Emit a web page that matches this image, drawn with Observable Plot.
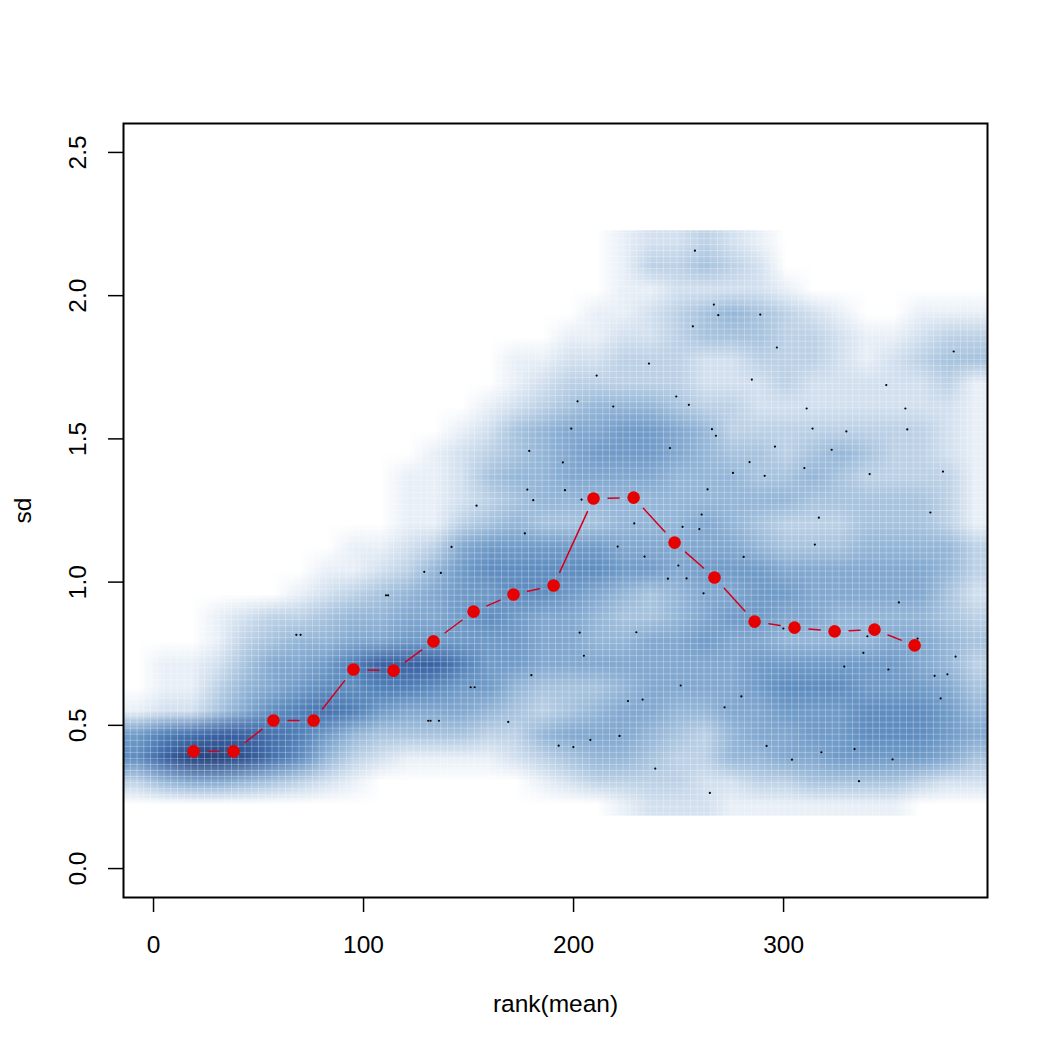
<!DOCTYPE html>
<html>
<head>
<meta charset="utf-8">
<script src="https://cdn.jsdelivr.net/npm/d3@7"></script>
<script src="https://cdn.jsdelivr.net/npm/@observablehq/plot@0.6"></script>
<style>
html,body{margin:0;padding:0;background:#fff}
svg{display:block}
</style>
</head>
<body>
<div id="chart"></div>
<script>
// Density levels, top row first, 32 columns per row
const densityRows = [
[0,0,0,0,0,0,0,0,0,0,0,0,0,0,0,0,0,0,1,2,2,3,2,1,0,0,0,0,0,0,0,0],
[0,0,0,0,0,0,0,0,0,0,0,0,0,0,0,0,0,0,1,3,3,4,3,2,0,0,0,0,0,0,0,0],
[0,0,0,0,0,0,0,0,0,0,0,0,0,0,0,0,0,0,1,1,2,2,2,2,1,0,0,0,0,0,0,0],
[0,0,0,0,0,0,0,0,0,0,0,0,0,0,0,0,0,1,1,2,3,4,5,4,3,2,1,0,0,1,1,1],
[0,0,0,0,0,0,0,0,0,0,0,0,0,0,0,0,1,1,2,2,3,4,4,4,3,3,2,1,1,2,3,3],
[0,0,0,0,0,0,0,0,0,0,0,0,0,0,1,1,2,2,3,3,3,2,2,3,3,3,2,1,2,3,4,4],
[0,0,0,0,0,0,0,0,0,0,0,0,0,0,1,2,3,3,3,3,3,2,2,2,3,2,2,2,2,2,3,1],
[0,0,0,0,0,0,0,0,0,0,0,0,0,1,2,3,4,5,5,5,4,3,3,2,2,2,2,2,2,2,2,1],
[0,0,0,0,0,0,0,0,0,0,0,0,1,2,4,5,6,6,7,7,6,5,3,3,3,3,3,3,3,3,2,1],
[0,0,0,0,0,0,0,0,0,0,0,1,2,3,4,5,6,7,7,7,6,5,4,4,3,4,5,4,3,3,2,1],
[0,0,0,0,0,0,0,0,0,0,1,1,2,4,5,5,6,6,6,6,5,5,5,4,4,5,4,3,3,3,3,1],
[0,0,0,0,0,0,0,0,0,0,1,1,2,3,4,5,5,5,5,5,5,5,5,5,5,4,4,4,4,4,3,1],
[0,0,0,0,0,0,0,0,0,0,1,1,3,4,5,4,4,4,5,5,5,6,5,4,3,3,3,4,4,4,3,1],
[0,0,0,0,0,0,0,0,1,1,2,3,6,7,7,7,7,7,6,6,6,6,6,5,4,4,4,5,5,5,5,3],
[0,0,0,0,0,0,0,1,1,2,3,5,7,8,8,8,8,8,7,7,6,7,7,7,6,6,6,6,6,6,5,3],
[0,0,0,0,0,0,1,2,3,4,5,6,7,7,8,8,7,6,5,4,5,6,6,7,7,6,6,6,6,6,4,2],
[0,0,0,1,2,3,3,4,5,5,6,6,7,8,7,6,6,5,4,4,5,6,7,7,6,6,5,5,5,5,4,3],
[0,0,0,1,3,4,5,5,6,6,7,7,7,7,7,6,6,5,5,6,6,7,6,6,5,5,5,5,6,6,5,4],
[0,1,1,2,4,6,6,7,9,11,11,11,9,7,7,6,6,6,6,6,6,6,6,7,7,7,7,7,7,6,5,3],
[0,1,1,3,5,6,7,8,8,9,9,8,7,7,5,4,4,4,5,6,6,6,6,7,8,8,8,7,7,7,6,4],
[1,2,2,4,6,8,9,10,9,7,6,6,6,5,4,3,4,5,6,6,5,5,6,6,7,7,7,8,8,8,7,5],
[7,9,10,11,11,10,9,7,5,4,4,4,4,3,3,5,6,6,6,5,4,3,5,6,6,7,7,8,8,8,7,6],
[8,11,13,13,12,10,8,5,3,2,1,1,1,1,2,3,4,5,5,4,3,3,5,5,6,6,7,7,7,7,6,4],
[3,5,6,6,5,4,3,2,1,0,0,0,0,0,0,1,2,3,3,3,3,2,2,3,3,4,4,4,4,3,2,2],
[0,0,0,0,0,0,0,0,0,0,0,0,0,0,0,0,0,0,1,2,2,2,1,1,1,1,1,1,1,0,0,0]
];
const densityLevels = [0,1,2,3,4,5,6,7,8,9,10,11,12,13];
const densityColors = ["#ffffff","#e8eff7","#d2e0ef","#bcd1e6","#a7c3de","#94b6d8","#82a8d0","#709bc8","#5f8dc0","#5080b8","#4572ae","#3a62a3","#305492","#27447f"];

// Low-density points
const dotX = [68.0,70.0,110.7,111.7,201.9,218.9,254.9,198.9,178.9,194.9,245.9,178.0,195.9,180.8,203.8,153.8,176.8,228.9,251.9,259.9,141.9,128.9,136.8,221.0,233.8,249.9,244.9,253.8,202.9,229.9,204.9,179.9,151.0,152.9,251.0,225.9,232.9,130.8,131.9,135.9,168.9,221.9,208.0,192.9,199.9,238.9,354.9,299.9,339.9,363.8,338.0,381.9,328.9,349.9,371.9,378.0,374.8,279.9,271.9,291.9,304.0,318.0,333.8,351.9,335.9,264.9,266.8,268.9,288.9,256.8,296.8,381.0,284.9,348.9,311.0,358.0,265.9,267.8,313.8,329.9,358.9,295.9,322.9,283.8,275.9,291.0,309.9,341.0,375.9,263.8,261.0,316.8,369.9,314.9,281.0,261.9,257.8,235.9,211.0,248.9];
const dotY = [0.816,0.816,0.954,0.954,1.631,1.613,1.619,1.536,1.458,1.418,1.468,1.323,1.321,1.286,1.288,1.267,1.170,1.205,1.193,1.185,1.123,1.036,1.032,1.124,1.089,1.058,1.012,1.013,0.824,0.825,0.743,0.675,0.633,0.633,0.639,0.585,0.590,0.516,0.516,0.516,0.512,0.463,0.449,0.429,0.424,0.349,0.929,0.838,0.811,0.803,0.753,0.740,0.705,0.695,0.673,0.678,0.594,0.601,0.563,0.428,0.380,0.406,0.417,0.381,0.305,0.264,1.969,1.932,1.934,1.893,1.819,1.805,1.707,1.688,1.606,1.606,1.534,1.511,1.536,1.526,1.533,1.473,1.462,1.419,1.381,1.371,1.398,1.377,1.386,1.324,1.236,1.225,1.243,1.131,1.088,0.961,2.157,1.763,1.721,1.648];
const dots = dotX.map((x, i) => ({x, y: dotY[i]}));

// Running median line
const meanX = [19.05,38.1,57.1,76.2,95.2,114.3,133.3,152.4,171.4,190.5,209.5,228.6,248.1,267.1,286.2,305.2,324.3,343.3,362.4];
const meanY = [0.409,0.409,0.517,0.517,0.695,0.691,0.793,0.897,0.957,0.988,1.292,1.295,1.138,1.016,0.862,0.841,0.828,0.834,0.779];
const means = meanX.map((x, i) => ({x, y: meanY[i]}));
const meanSegments = means.slice(1).map((d, i) => ({x1: means[i].x, y1: means[i].y, x2: d.x, y2: d.y}));

const xTicks = [0,100,200,300];
const yTicks = [0,0.5,1,1.5,2,2.5];
const xDomain = [-14.3,397.1];
const yDomain = [-0.101,2.601];
const densityBounds = {x1: -14.3, x2: 397.1, y1: 2.228, y2: 0.185};
const seamX = d3.range(128).map(i => xDomain[0] + i * (xDomain[1] - xDomain[0]) / 128);
const seamY = d3.range(128).map(i => yDomain[0] + i * (yDomain[1] - yDomain[0]) / 128);

const chart = Plot.plot({
  width: 1050,
  height: 1050,
  marginLeft: 123,
  marginRight: 63,
  marginTop: 123,
  marginBottom: 153,
  style: {fontFamily: "'Liberation Sans', Arial, sans-serif", background: "#fff", color: "#000", fontSize: "24.5px"},
  x: {domain: xDomain},
  y: {domain: yDomain},
  color: {type: "linear", domain: densityLevels, range: densityColors, interpolate: "rgb"},
  marks: [
    Plot.raster(densityRows.flat(), {
      width: densityRows[0].length,
      height: densityRows.length,
      ...densityBounds,
      fill: d => d,
      imageRendering: "auto"
    }),
    Plot.ruleX(seamX, {x: d => d, y1: densityBounds.y2, y2: densityBounds.y1, stroke: "#fff", strokeOpacity: 0.28, strokeWidth: 1}),
    Plot.ruleY(seamY.filter(d => d > densityBounds.y2 && d < densityBounds.y1), {y: d => d, stroke: "#fff", strokeOpacity: 0.28, strokeWidth: 1}),
    Plot.dot(dots, {x: "x", y: "y", r: 1.1, fill: "#000", stroke: "none"}),
    Plot.arrow(meanSegments, {x1: "x1", y1: "y1", x2: "x2", y2: "y2", headLength: 0, bend: 0, inset: 14.5, stroke: "#d2001c", strokeWidth: 1.5}),
    Plot.dot(means, {x: "x", y: "y", r: 6.3, fill: "#e60000", stroke: "none"}),
    Plot.frame({stroke: "#000", strokeWidth: 2}),
    Plot.axisX(xTicks, {
      tickSize: 15, tickPadding: 23, fontSize: 24.5, strokeWidth: 1.5,
      label: "rank(mean)", labelAnchor: "center", labelArrow: "none", labelOffset: 114
    }),
    Plot.axisY(yTicks, {
      tickSize: 15, tickPadding: 23, fontSize: 24.5, strokeWidth: 1.5, tickRotate: -90,
      tickFormat: d3.format(".1f"),
      label: "sd", labelAnchor: "center", labelArrow: "none", labelOffset: 110
    })
  ]
});
document.getElementById("chart").appendChild(chart);
</script>
</body>
</html>
